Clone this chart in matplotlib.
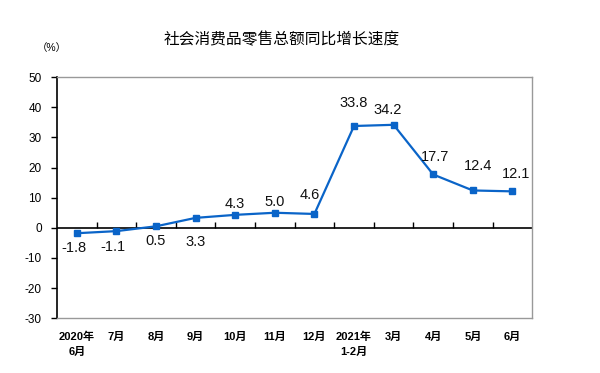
import numpy as np
import matplotlib
matplotlib.use("Agg")
import matplotlib.pyplot as plt

plt.rcParams['font.family'] = ['Liberation Sans', 'Noto Sans CJK SC', 'DejaVu Sans']

# data
months = ["2020年\n6月", "7月", "8月", "9月", "10月", "11月", "12月",
          "2021年\n1-2月", "3月", "4月", "5月", "6月"]
growth = [-1.8, -1.1, 0.5, 3.3, 4.3, 5.0, 4.6, 33.8, 34.2, 17.7, 12.4, 12.1]
y_ticks = [-30, -20, -10, 0, 10, 20, 30, 40, 50]

# label placement (pixels from the point), as in the reference
label_dx = [-3, -3, 0, 0, 0, 0, -5, 0, -6, 2, 5, 4]
label_dy = [-15, -16, -15, -24, 11, 11, 19, 23, 15, 17, 24, 17]

line_color = '#0a64c8'

fig = plt.figure(figsize=(6, 3.73), dpi=100)
ax = fig.add_axes([0.095, 0.147, 0.792, 0.646])

x = np.arange(len(months))
ax.plot(x, growth, color=line_color, lw=1.6, marker='s', ms=4.5, zorder=3)

for xi, v, dx, dy in zip(x, growth, label_dx, label_dy):
    ax.annotate(f"{v:.1f}", (xi, v), xytext=(dx, dy), textcoords='offset pixels',
                ha='center', va='center', fontsize=10.5, color='#111111')

ax.set_xlim(-0.5, len(months) - 0.5)
ax.set_ylim(-30, 50)
ax.set_yticks(y_ticks)
ax.set_yticklabels([str(t) for t in y_ticks], fontsize=8.5)
ax.tick_params(axis='y', direction='out', length=4, width=1, color='black', pad=7)

ax.set_xticks(x)
ax.set_xticklabels(months, fontsize=8, fontweight='bold', linespacing=1.6)
ax.tick_params(axis='x', length=0, pad=10)

# zero line with ticks at category boundaries (pointing up)
ax.axhline(0, color='black', lw=1.2, zorder=2)
bounds = np.arange(0.5, len(months) - 0.5, 1.0)
ax.vlines(bounds, 0, 1.8, color='black', lw=1, zorder=2)

ax.spines['left'].set_color('black')
ax.spines['left'].set_linewidth(1.2)
for s in ['top', 'right', 'bottom']:
    ax.spines[s].set_color('#999999')
    ax.spines[s].set_linewidth(1)

fig.text(0.47, 0.893, "社会消费品零售总额同比增长速度", ha='center', va='center',
         fontsize=11.3)
fig.text(0.087, 0.871, "（%）", ha='center', va='center', fontsize=7.5)

fig.savefig("out.png", dpi=100)
